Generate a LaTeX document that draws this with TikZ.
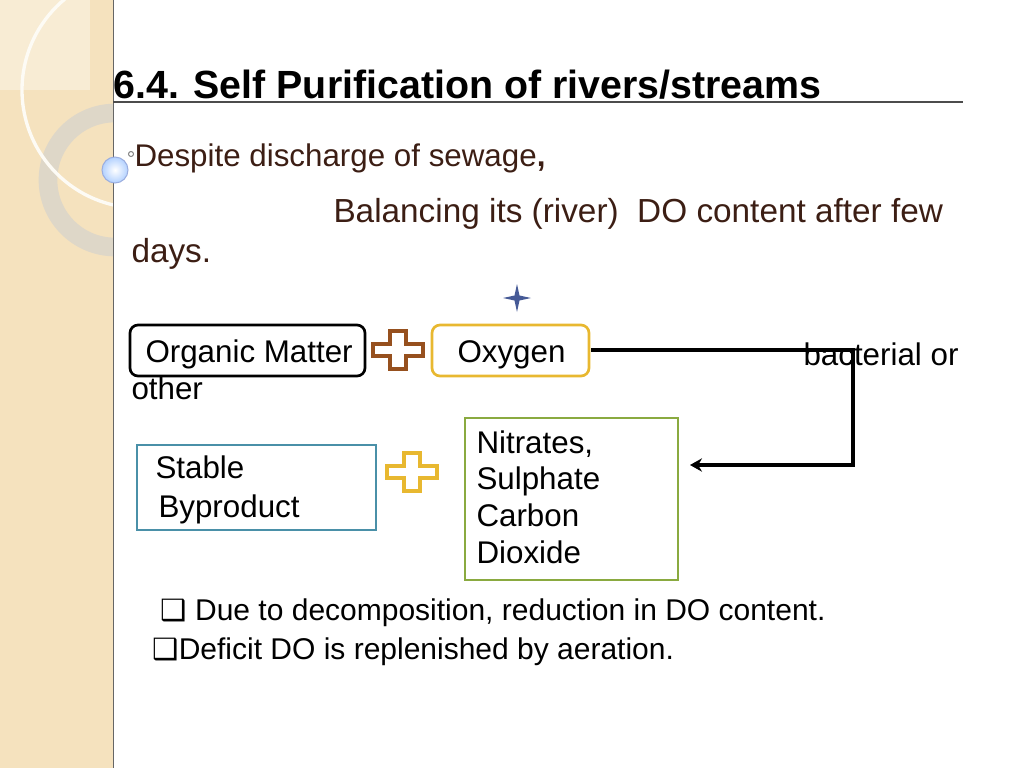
\documentclass[tikz,border=0pt]{standalone}
\usepackage{fontspec}
\setmainfont{Liberation Sans}
\newfontfamily\symfont{DejaVu Sans}
\usetikzlibrary{arrows.meta}
\definecolor{panel}{RGB}{245,226,190}
\definecolor{panellight}{RGB}{248,236,212}
\definecolor{ringgray}{RGB}{222,215,200}
\definecolor{textbrown}{RGB}{60,30,20}
\definecolor{plusbrown}{RGB}{150,80,30}
\definecolor{oxyellow}{RGB}{232,184,48}
\definecolor{stableteal}{RGB}{74,144,168}
\definecolor{nitgreen}{RGB}{138,170,64}
\definecolor{starblue}{RGB}{70,90,150}
\tikzset{every picture/.style={line width=0.75pt},
  boxtext/.style={font=\fontsize{23.5}{28}\selectfont, align=left},
  plussign/.style={line width=2.5pt, line join=miter}}
\newcommand{\plusat}[3]{% center x, center y, colour
  \draw[plussign,draw=#3] (#1-8,#2-19) -- (#1+8,#2-19) -- (#1+8,#2-6) -- (#1+25,#2-6) -- (#1+25,#2+6) -- (#1+8,#2+6) -- (#1+8,#2+19) -- (#1-8,#2+19) -- (#1-8,#2+6) -- (#1-25,#2+6) -- (#1-25,#2-6) -- (#1-8,#2-6) -- cycle;}

\begin{document}
\begin{tikzpicture}[x=0.75pt,y=0.75pt,yscale=-1,xscale=1]
\useasboundingbox (0,0) rectangle (1024,768);
%Shape: side panel
\fill[panel] (0,0) rectangle (113,768);
\fill[panellight] (0,0) rectangle (90,90);
\begin{scope}
\clip (0,0) rectangle (113,768);
\draw[ringgray, line width=14pt] (115,180) circle (67);
\draw[white!85!panel, line width=2.5pt] (140,90) circle (118);
\end{scope}
\draw[black!60, line width=0.6pt] (113,0) -- (113,768);
\shade[inner color=white, outer color=cyan!40!blue!30] (115,170) circle (13);
\draw[cyan!40!blue!40] (115,170) circle (13);
\draw[gray] (131,154) circle (2.5);

%Title
\node[anchor=base west, inner sep=0, font=\fontsize{29.5}{34}\selectfont\bfseries] (title) at (113,98) {6.4. Self Purification of rivers/streams};
\draw[black!70, line width=1pt] (113,102) -- (963,102);

%Text lines
\node[anchor=base west, inner sep=0, text=textbrown, boxtext] (despite) at (134,166) {Despite discharge of sewage\textbf{,}};
\node[anchor=base west, inner sep=0, text=textbrown, boxtext, font=\fontsize{25}{30}\selectfont] (balance) at (333,222) {Balancing its (river)\ \ DO content after few};
\node[anchor=base west, inner sep=0, text=textbrown, boxtext, font=\fontsize{25}{30}\selectfont] (days) at (131,262) {days.};

%Top row
\draw[line width=2pt, rounded corners=6pt] (130,325) rectangle (365,376);
\node[anchor=base west, inner sep=0, boxtext] (organic) at (145,362) {Organic Matter};
\plusat{398}{350}{plusbrown}
\draw[oxyellow, line width=2pt, rounded corners=6pt] (432,325) rectangle (589,376);
\node[anchor=base west, inner sep=0, boxtext] (oxygen) at (457,362) {Oxygen};
\fill[starblue] (517,284) -- (519.5,295.5) -- (531,298) -- (519.5,300.5) -- (517,312) -- (514.5,300.5) -- (503,298) -- (514.5,295.5) -- cycle;
\node[anchor=base west, inner sep=0, boxtext] (bact) at (803,365) {bacterial or};
\node[anchor=base west, inner sep=0, boxtext] (other) at (131,399) {other};

%Connector
\coordinate (start) at (591,350);
\coordinate (corner1) at (853,350);
\coordinate (corner2) at (853,465);
\coordinate (tip) at (690,465);
\draw[line width=3.5pt, -{Stealth[length=9pt,width=10pt]}] (start) -- (corner1) -- (corner2) -- (tip);

%Bottom row
\draw[stableteal, line width=2pt] (137,445) rectangle (376,530);
\node[anchor=base west, inner sep=0, boxtext] (stable) at (155,478) {Stable};
\node[anchor=base west, inner sep=0, boxtext] (byprod) at (158,517) {Byproduct};
\plusat{412}{472}{oxyellow}
\draw[nitgreen, line width=2pt] (465,418) rectangle (678,580);
\node[anchor=north west, inner sep=0, boxtext] (nitrates) at (476,430) {Nitrates,\\[-0.5pt]Sulphate\\[-0.5pt]Carbon\\[-0.5pt]Dioxide};

%Bullets
\node[anchor=base west, inner sep=0, boxtext, font=\fontsize{22.5}{27}\selectfont] (bul1) at (160,620) {{\symfont\fontsize{22}{24}\selectfont ❑}\ Due to decomposition, reduction in DO content.};
\node[anchor=base west, inner sep=0, boxtext, font=\fontsize{22.5}{27}\selectfont] (bul2) at (152,659) {{\symfont\fontsize{22}{24}\selectfont ❑}Deficit DO is replenished by aeration.};
\end{tikzpicture}
\end{document}
